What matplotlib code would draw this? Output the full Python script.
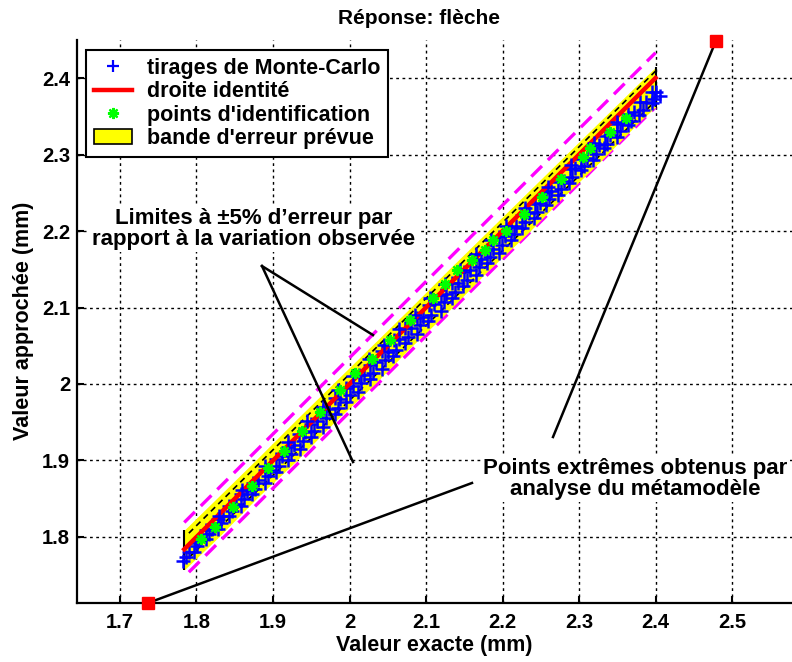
import matplotlib
matplotlib.use("Agg")
import matplotlib.pyplot as plt
from matplotlib.lines import Line2D
from matplotlib.patches import Patch

plt.rcParams["font.family"] = ["Liberation Sans", "DejaVu Sans"]
plt.rcParams["font.weight"] = "bold"

# ---------- data ----------

# Monte-Carlo draws (visual rows of the dense blue strip)
mc_x_low = [1.782, 1.797, 1.812, 1.828, 1.843, 1.858, 1.873, 1.889, 1.904, 1.919, 1.935, 1.950,
            1.965, 1.981, 1.996, 2.011, 2.027, 2.042, 2.057, 2.073, 2.088, 2.103, 2.119, 2.134,
            2.149, 2.165, 2.180, 2.195, 2.211, 2.226, 2.241, 2.257, 2.272, 2.287, 2.303, 2.318,
            2.333, 2.349, 2.364, 2.379, 2.395, 2.406]
mc_y_low = [1.768, 1.781, 1.797, 1.811, 1.827, 1.840, 1.856, 1.871, 1.885, 1.901, 1.915, 1.931,
            1.944, 1.961, 1.977, 1.990, 2.007, 2.020, 2.036, 2.053, 2.066, 2.082, 2.096, 2.112,
            2.128, 2.142, 2.158, 2.171, 2.188, 2.204, 2.217, 2.234, 2.247, 2.263, 2.280, 2.293,
            2.309, 2.323, 2.339, 2.352, 2.367, 2.376]
mc_x_lmid = [1.786, 1.801, 1.816, 1.832, 1.847, 1.862, 1.877, 1.893, 1.908, 1.923, 1.939, 1.954,
             1.969, 1.985, 2.000, 2.015, 2.031, 2.046, 2.061, 2.077, 2.092, 2.107, 2.123, 2.138,
             2.153, 2.169, 2.184, 2.199, 2.215, 2.230, 2.245, 2.261, 2.276, 2.291, 2.307, 2.322,
             2.337, 2.353, 2.368, 2.383, 2.398]
mc_y_lmid = [1.774, 1.788, 1.804, 1.818, 1.834, 1.850, 1.863, 1.880, 1.893, 1.909, 1.926, 1.939,
             1.955, 1.969, 1.985, 2.001, 2.015, 2.031, 2.044, 2.061, 2.077, 2.090, 2.107, 2.120,
             2.136, 2.153, 2.166, 2.182, 2.196, 2.212, 2.225, 2.242, 2.255, 2.271, 2.285, 2.301,
             2.314, 2.331, 2.344, 2.358, 2.372]
mc_x_mid = [1.790, 1.805, 1.820, 1.835, 1.851, 1.866, 1.881, 1.896, 1.912, 1.927, 1.942, 1.958,
            1.973, 1.988, 2.004, 2.019, 2.034, 2.050, 2.065, 2.080, 2.096, 2.111, 2.126, 2.142,
            2.157, 2.172, 2.188, 2.203, 2.218, 2.234, 2.249, 2.264, 2.280, 2.295, 2.310, 2.326,
            2.341, 2.356, 2.372, 2.387, 2.401]
mc_y_mid = [1.780, 1.797, 1.811, 1.828, 1.843, 1.860, 1.874, 1.888, 1.906, 1.920, 1.937, 1.951,
            1.967, 1.980, 1.998, 2.012, 2.029, 2.042, 2.059, 2.073, 2.087, 2.104, 2.118, 2.132,
            2.149, 2.163, 2.177, 2.193, 2.206, 2.223, 2.236, 2.252, 2.266, 2.282, 2.295, 2.312,
            2.325, 2.341, 2.355, 2.369, 2.382]
mc_x_umid = [1.798, 1.813, 1.828, 1.843, 1.858, 1.874, 1.889, 1.904, 1.919, 1.934, 1.950, 1.966,
             1.981, 1.996, 2.012, 2.027, 2.042, 2.058, 2.073, 2.088, 2.104, 2.119, 2.134, 2.150,
             2.165, 2.180, 2.196, 2.211, 2.226, 2.242, 2.257, 2.272, 2.288, 2.303, 2.318, 2.334,
             2.349, 2.364, 2.380, 2.395]
mc_y_umid = [1.792, 1.809, 1.823, 1.840, 1.856, 1.871, 1.888, 1.902, 1.918, 1.934, 1.948, 1.965,
             1.982, 1.995, 2.012, 2.025, 2.043, 2.057, 2.073, 2.086, 2.103, 2.116, 2.132, 2.146,
             2.162, 2.175, 2.192, 2.205, 2.221, 2.235, 2.251, 2.264, 2.281, 2.294, 2.310, 2.324,
             2.340, 2.353, 2.368, 2.382]
mc_x_high = [1.830, 1.860, 1.890, 1.920, 1.945, 1.965, 1.985, 2.005, 2.025, 2.045, 2.065, 2.085,
             2.105, 2.125, 2.145, 2.165, 2.185, 2.205, 2.230, 2.260, 2.290, 2.320, 2.350]
mc_y_high = [1.828, 1.861, 1.893, 1.924, 1.951, 1.970, 1.992, 2.011, 2.033, 2.051, 2.072, 2.090,
             2.112, 2.131, 2.149, 2.170, 2.188, 2.207, 2.230, 2.258, 2.286, 2.315, 2.343]

# identification points
id_x = [1.806, 1.824, 1.848, 1.872, 1.893, 1.915, 1.938, 1.962, 1.988, 2.007, 2.029, 2.053,
        2.079, 2.109, 2.125, 2.141, 2.160, 2.177, 2.188, 2.205, 2.228, 2.252, 2.276, 2.305,
        2.314, 2.340, 2.361]
id_y = [1.797, 1.813, 1.839, 1.866, 1.890, 1.913, 1.938, 1.964, 1.992, 2.014, 2.033, 2.058,
        2.084, 2.112, 2.131, 2.149, 2.162, 2.175, 2.188, 2.200, 2.222, 2.244, 2.268, 2.297,
        2.308, 2.330, 2.348]

# identity line
ident_x = [1.784, 2.400]
ident_y = [1.784, 2.400]

# predicted error band (yellow)
band_x = [1.784, 1.83, 1.88, 1.93, 1.98, 2.03, 2.08, 2.13, 2.18, 2.23, 2.28, 2.33, 2.38, 2.400]
band_hi = [1.809, 1.854, 1.903, 1.953, 2.002, 2.051, 2.100, 2.150, 2.199, 2.248, 2.297, 2.346,
           2.395, 2.414]
band_lo = [1.757, 1.801, 1.852, 1.899, 1.950, 1.997, 2.048, 2.096, 2.147, 2.194, 2.245, 2.293,
           2.344, 2.362]

# black dashed band limits
blk_x = [1.790, 2.400]
blk_hi = [1.805, 2.409]
blk_lo = [1.773, 2.370]

# +-5 % limits (magenta)
mag_x_hi = [1.784, 2.400]
mag_hi = [1.819, 2.433]
mag_x_lo = [1.790, 2.400]
mag_lo = [1.754, 2.362]

# extreme points from the metamodel
ext_x = [1.7366, 2.4791]
ext_y = [1.7137, 2.4490]

xticks = [1.7, 1.8, 1.9, 2.0, 2.1, 2.2, 2.3, 2.4, 2.5]
xtick_labels = ["1.7", "1.8", "1.9", "2", "2.1", "2.2", "2.3", "2.4", "2.5"]
yticks = [1.8, 1.9, 2.0, 2.1, 2.2, 2.3, 2.4]
ytick_labels = ["1.8", "1.9", "2", "2.1", "2.2", "2.3", "2.4"]

# annotation anchors
lim_text = (1.8752, 2.2026)
lim_start = (1.8856, 2.1542)
lim_ends = [(2.0307, 2.0640), (2.0046, 1.8980)]
pts_text = (2.3732, 1.8758)
pts_starts = [(2.1601, 1.8706), (2.2660, 1.9307)]

# ---------- figure ----------

W, H = 792, 662
fig = plt.figure(figsize=(W / 100, H / 100), dpi=100)
ax = fig.add_axes([77 / W, (H - 603) / H, 1 - 77 / W, (603 - 40) / H])

ax.set_xlim(1.6438, 2.5784)
ax.set_ylim(ext_y[0], ext_y[1] + 0.0007)

for s in ("top", "right"):
    ax.spines[s].set_visible(False)
for s in ("left", "bottom"):
    ax.spines[s].set_linewidth(1.6)

ax.set_xticks(xticks)
ax.set_xticklabels(xtick_labels)
ax.set_yticks(yticks)
ax.set_yticklabels(ytick_labels)
ax.tick_params(direction="in", length=5, width=1.5, labelsize=14.5)
ax.tick_params(axis="x", pad=7)
ax.tick_params(axis="y", pad=5)
ax.grid(True, color="black", linestyle=(0, (2, 2.5)), linewidth=1.0)
ax.set_axisbelow(True)

# band
ax.fill_between(band_x, band_lo, band_hi, color="yellow", linewidth=0, zorder=2)
ax.vlines([band_x[0], band_x[-1]], [band_lo[0], band_lo[-1]], [band_hi[0], band_hi[-1]],
          color="black", linewidth=1.5, zorder=2.1)

# limits
ax.plot(mag_x_hi, mag_hi, color="magenta", linewidth=2.4, linestyle=(0, (4.5, 2.5)), zorder=1.8)
ax.plot(mag_x_lo, mag_lo, color="magenta", linewidth=2.4, linestyle=(0, (4.5, 2.5)), zorder=1.8)
ax.plot(blk_x, blk_hi, color="black", linewidth=1.2, linestyle=(0, (3.6, 2.6)), zorder=2.2)
ax.plot(blk_x, blk_lo, color="black", linewidth=1.2, linestyle=(0, (3.6, 2.6)), zorder=2.2)

# data: the red identity line sits over most of the blue cloud, the upper row covers it
mc_rows = ((mc_x_low, mc_y_low), (mc_x_lmid, mc_y_lmid), (mc_x_mid, mc_y_mid),
           (mc_x_umid, mc_y_umid))
for xs, ys in mc_rows:
    ax.plot(xs, ys, linestyle="none", marker="+", markersize=9.5, markeredgewidth=1.8,
            color="blue", zorder=4)
ax.plot(ident_x, ident_y, color="red", linewidth=3.2, zorder=4.5)
ax.plot(mc_x_high, mc_y_high, linestyle="none", marker="+", markersize=9.5,
        markeredgewidth=1.8, color="blue", zorder=4.6)
ax.plot(id_x, id_y, linestyle="none", marker=(8, 2, 0), markersize=8, markeredgewidth=1.6,
        color="#00ff00", zorder=5)

# extreme points
ax.plot(ext_x, ext_y, linestyle="none", marker="s", markersize=8.5, color="red",
        clip_on=False, zorder=8)

# annotations
txt_kw = dict(ha="center", va="center", fontsize=16, fontweight="bold", linespacing=1.05,
              zorder=9, bbox=dict(facecolor="white", edgecolor="none", pad=1.5))
ax.text(*lim_text, "Limites à ±5% d’erreur par\nrapport à la variation observée", **txt_kw)
ax.text(*pts_text, "Points extrêmes obtenus par\nanalyse du métamodèle", **txt_kw)
for end in lim_ends:
    ax.plot([lim_start[0], end[0]], [lim_start[1], end[1]], color="black", linewidth=1.8,
            zorder=7)
for start, ex, ey in zip(pts_starts, ext_x, ext_y):
    ax.plot([start[0], ex], [start[1], ey], color="black", linewidth=1.8, zorder=7,
            clip_on=False)

# legend
handles = [
    Line2D([], [], linestyle="none", marker="+", markersize=9, markeredgewidth=1.6, color="blue"),
    Line2D([], [], color="red", linewidth=3.2),
    Line2D([], [], linestyle="none", marker=(8, 2, 0), markersize=8, markeredgewidth=1.6,
           color="#00ff00"),
    Patch(facecolor="yellow", edgecolor="black", linewidth=1.2),
]
labels = ["tirages de Monte-Carlo", "droite identité", "points d'identification",
          "bande d'erreur prévue"]
leg = ax.legend(handles, labels, loc="upper left", bbox_to_anchor=(86 / W, 1 - 50 / H),
                bbox_transform=fig.transFigure, borderaxespad=0, fancybox=False,
                framealpha=1, edgecolor="black", fontsize=15.5, handlelength=1.8,
                handletextpad=0.7, borderpad=0.35, labelspacing=0.12)
leg.get_frame().set_linewidth(1.5)
leg.set_zorder(10)

# titles
fig.text(419 / W, 1 - 18 / H, "Réponse: flèche", ha="center", va="center", fontsize=15,
         fontweight="bold")
fig.text(434 / W, 1 - 645 / H, "Valeur exacte (mm)", ha="center", va="center", fontsize=15.5,
         fontweight="bold")
fig.text(24 / W, 1 - 321 / H, "Valeur approchée (mm)", ha="center", va="center",
         rotation=90, fontsize=15.5, fontweight="bold")

fig.savefig("out.png", dpi=100)
